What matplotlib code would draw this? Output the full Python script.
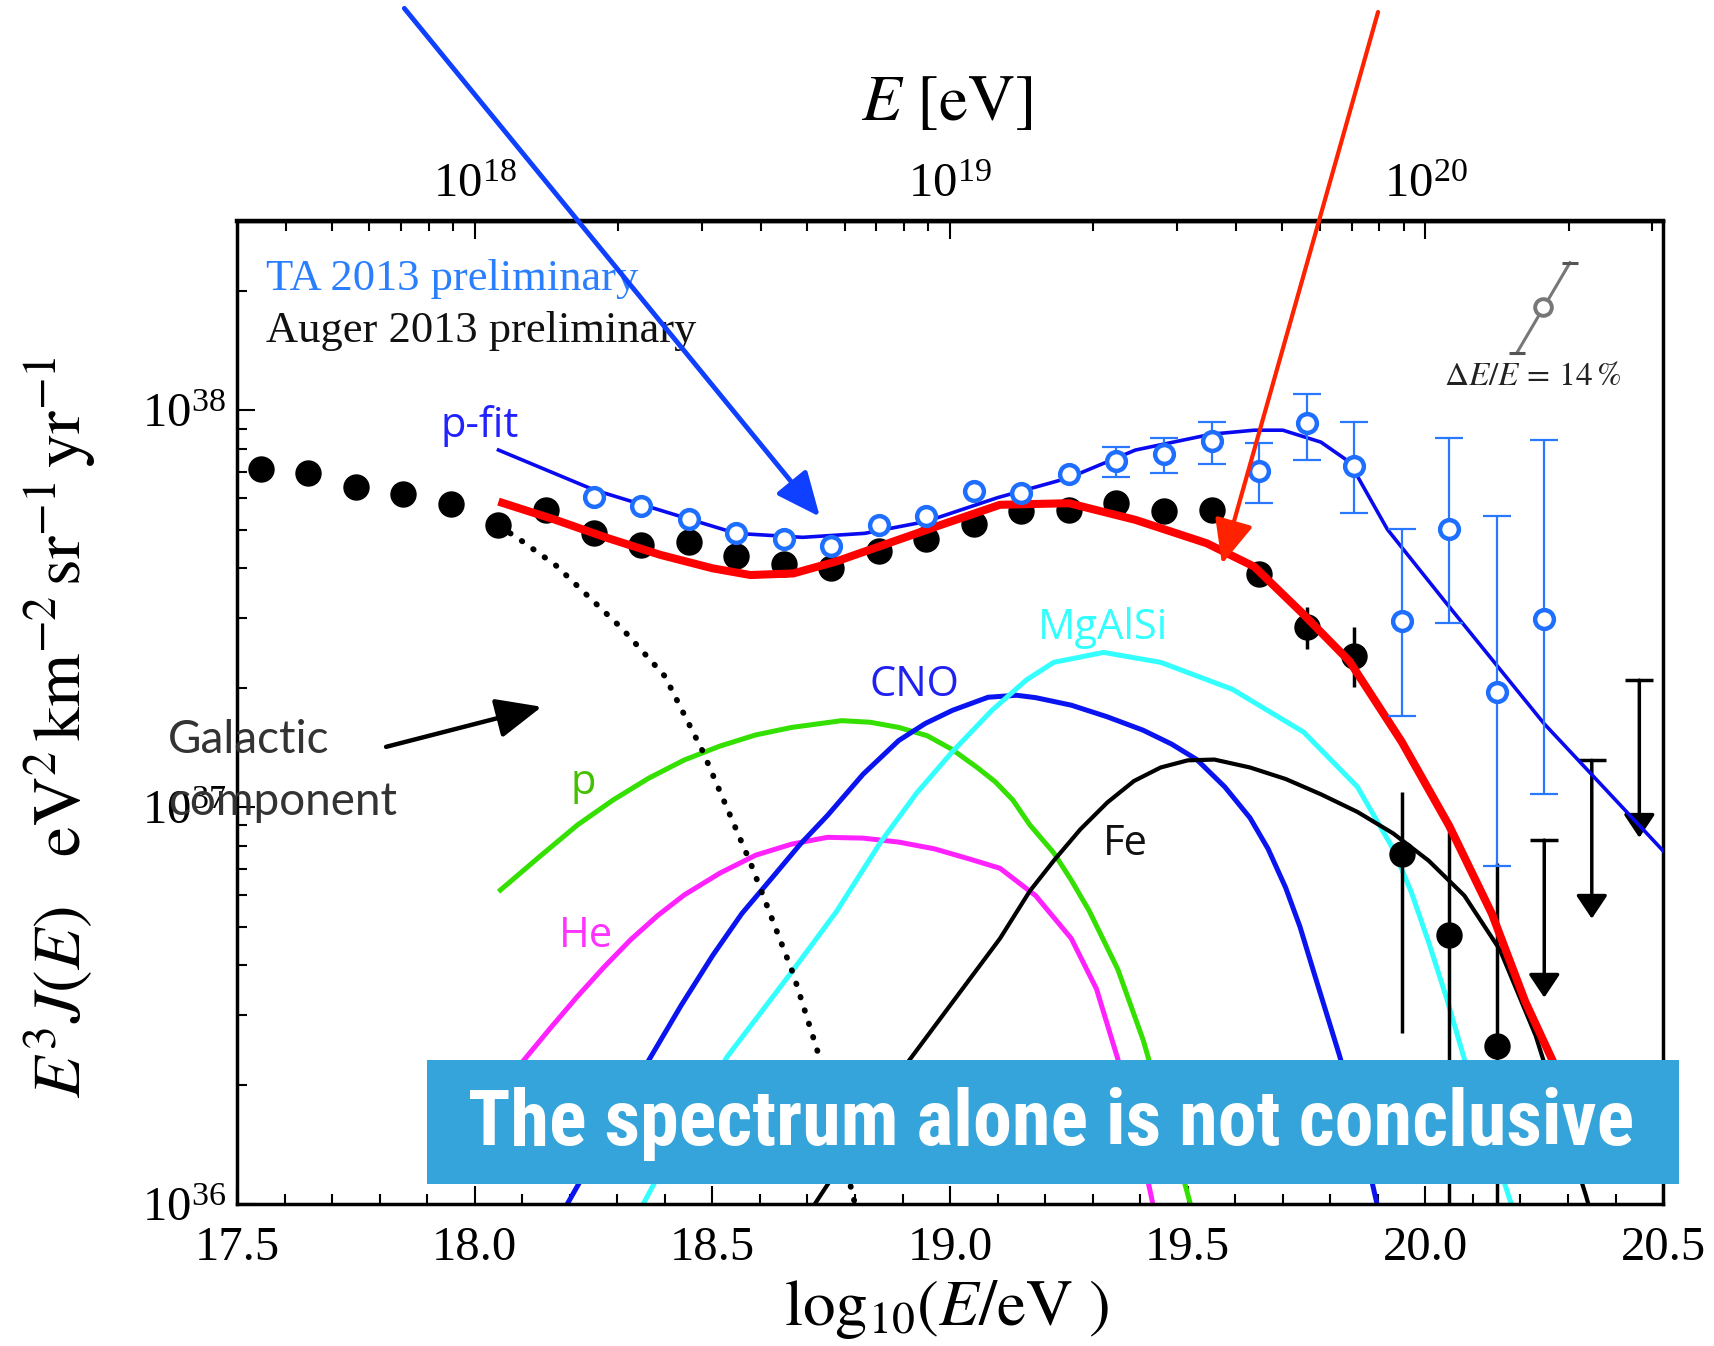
import numpy as np
import matplotlib
matplotlib.use('Agg')
import matplotlib.pyplot as plt
from matplotlib import font_manager
from matplotlib.patches import Rectangle
from matplotlib.ticker import MultipleLocator, FixedLocator, NullFormatter, FormatStrFormatter

plt.rcParams['font.family'] = 'serif'
plt.rcParams['font.serif'] = ['Liberation Serif', 'DejaVu Serif']
plt.rcParams['mathtext.fontset'] = 'stix'

# Auger 2013 (log10 of E^3 J in eV^2 km^-2 sr^-1 yr^-1)
auger_x = [17.55, 17.65, 17.75, 17.85, 17.95, 18.05, 18.15, 18.25, 18.35, 18.45,
           18.55, 18.65, 18.75, 18.85, 18.95, 19.05, 19.15, 19.25, 19.35, 19.45,
           19.55, 19.65, 19.75, 19.85, 19.95, 20.05, 20.15]
auger_log = [37.851, 37.843, 37.807, 37.788, 37.763, 37.711, 37.749, 37.691, 37.661, 37.669,
             37.634, 37.614, 37.603, 37.645, 37.675, 37.713, 37.747, 37.749, 37.766, 37.747,
             37.749, 37.587, 37.455, 37.380, 36.882, 36.678, 36.397]
auger_err_x = [19.75, 19.85, 19.95, 20.05, 20.15]
auger_err_hi = [37.504, 37.454, 37.039, 36.937, 36.860]
auger_err_lo = [37.399, 37.302, 36.430, 35.500, 35.500]
auger_ul_x = [20.25, 20.35, 20.45]
auger_ul_top = [36.917, 37.118, 37.320]
auger_ul_tip = [36.520, 36.719, 36.923]

# TA 2013
ta_x = [18.25, 18.35, 18.45, 18.55, 18.65, 18.75, 18.85, 18.95, 19.05, 19.15,
        19.25, 19.35, 19.45, 19.55, 19.65, 19.75, 19.85, 19.95, 20.05, 20.15, 20.25]
ta_log = [37.782, 37.760, 37.727, 37.691, 37.675, 37.658, 37.711, 37.733, 37.796, 37.791,
          37.840, 37.873, 37.890, 37.923, 37.846, 37.967, 37.860, 37.468, 37.702, 37.289, 37.474]
ta_err_hi = [37.907, 37.931, 37.970, 37.917, 38.041, 37.970, 37.700, 37.931, 37.733, 37.926]
ta_err_lo = [37.833, 37.843, 37.865, 37.766, 37.876, 37.741, 37.229, 37.463, 36.851, 37.033]

# model curves
total_x = [18.05, 18.17, 18.28, 18.39, 18.50, 18.58, 18.67, 18.76, 18.87, 18.98, 19.105,
           19.25, 19.39, 19.54, 19.64, 19.74, 19.84, 19.95, 20.05, 20.14, 20.21, 20.27, 20.32]
total_log = [37.770, 37.724, 37.678, 37.636, 37.602, 37.585, 37.589, 37.619, 37.665, 37.711,
             37.762, 37.766, 37.724, 37.665, 37.606, 37.490, 37.368, 37.165, 36.953, 36.731,
             36.510, 36.355, 36.140]

pfit_x = [18.05, 18.25, 18.44, 18.55, 18.69, 18.82, 18.95, 19.10, 19.25, 19.39, 19.55, 19.64,
          19.70, 19.78, 19.84, 19.92, 20.04, 20.25, 20.50]
pfit_log = [37.90, 37.80, 37.73, 37.69, 37.68, 37.69, 37.72, 37.78, 37.83, 37.90, 37.94, 37.95,
            37.95, 37.92, 37.87, 37.70, 37.52, 37.21, 36.89]

gal_x = [18.05, 18.10, 18.17, 18.24, 18.31, 18.40, 18.48, 18.58, 18.67, 18.72, 18.80]
gal_log = [37.71, 37.67, 37.61, 37.53, 37.45, 37.33, 37.14, 36.86, 36.58, 36.39, 36.00]

p_x = [18.054, 18.140, 18.216, 18.291, 18.366, 18.441, 18.516, 18.591, 18.667, 18.772, 18.832,
       18.892, 18.952, 19.005, 19.057, 19.095, 19.132, 19.168, 19.218, 19.255, 19.293, 19.353,
       19.406, 19.451, 19.496, 19.510]
p_log = [36.791, 36.879, 36.955, 37.018, 37.073, 37.119, 37.154, 37.182, 37.201, 37.218, 37.214,
         37.201, 37.180, 37.145, 37.100, 37.064, 37.018, 36.955, 36.885, 36.816, 36.738, 36.591,
         36.414, 36.228, 36.042, 35.980]

he_x = [18.050, 18.103, 18.159, 18.216, 18.272, 18.328, 18.385, 18.441, 18.516, 18.591, 18.667,
        18.742, 18.817, 18.892, 18.967, 19.042, 19.105, 19.180, 19.255, 19.308, 19.353, 19.391,
        19.421, 19.430]
he_log = [36.280, 36.362, 36.443, 36.523, 36.597, 36.666, 36.727, 36.779, 36.834, 36.879, 36.907,
          36.924, 36.922, 36.912, 36.895, 36.869, 36.846, 36.777, 36.669, 36.542, 36.365, 36.198,
          36.032, 35.980]

cno_x = [18.190, 18.366, 18.434, 18.501, 18.562, 18.629, 18.685, 18.742, 18.817, 18.892, 18.948,
         19.005, 19.080, 19.140, 19.180, 19.255, 19.330, 19.406, 19.466, 19.519, 19.578, 19.631,
         19.669, 19.706, 19.736, 19.766, 19.819, 19.857, 19.894, 19.900]
cno_log = [35.990, 36.362, 36.500, 36.627, 36.732, 36.827, 36.907, 36.979, 37.083, 37.168, 37.211,
           37.244, 37.277, 37.282, 37.276, 37.257, 37.228, 37.194, 37.159, 37.120, 37.051, 36.973,
           36.895, 36.797, 36.699, 36.581, 36.375, 36.218, 36.022, 35.990]

mg_x = [18.350, 18.442, 18.531, 18.667, 18.761, 18.854, 18.930, 19.005, 19.088, 19.161, 19.218,
        19.323, 19.443, 19.594, 19.744, 19.857, 19.932, 19.970, 20.007, 20.045, 20.082, 20.180,
        20.185]
mg_log = [35.990, 36.196, 36.371, 36.585, 36.737, 36.912, 37.036, 37.140, 37.244, 37.321, 37.365,
          37.390, 37.365, 37.297, 37.189, 37.051, 36.895, 36.787, 36.659, 36.517, 36.365, 36.002,
          35.990]

fe_x = [18.710, 18.914, 19.105, 19.168, 19.218, 19.274, 19.331, 19.387, 19.443, 19.500, 19.556,
        19.631, 19.706, 19.781, 19.857, 19.932, 20.007, 20.082, 20.157, 20.232, 20.338, 20.345]
fe_log = [35.990, 36.362, 36.669, 36.789, 36.865, 36.944, 37.012, 37.066, 37.100, 37.118, 37.120,
          37.100, 37.071, 37.032, 36.988, 36.934, 36.865, 36.777, 36.640, 36.424, 36.020, 35.990]

# energy-scale uncertainty marker
de_x = [20.192, 20.248, 20.304]
de_log = [38.144, 38.261, 38.372]

top_ticks = [18, 19, 20]
top_labels = [r'$\mathdefault{10^{18}}$', r'$\mathdefault{10^{19}}$', r'$\mathdefault{10^{20}}$']
banner_text = 'The spectrum alone is not conclusive'


def f(v):
    return 10 ** np.asarray(v, dtype=float)


fig = plt.figure(figsize=(17.14, 13.46), dpi=100)
ax = fig.add_axes([0.1383, 0.1055, 0.8320, 0.7303])
ax.set_yscale('log')
ax.set_xlim(17.5, 20.5)
ax.set_ylim(1e36, 3e38)

# composition components
ax.plot(p_x, f(p_log), color='#33e000', lw=3.6, zorder=2)
ax.plot(he_x, f(he_log), color='#ff22ff', lw=3.6, zorder=2)
ax.plot(cno_x, f(cno_log), color='#0a14f0', lw=3.6, zorder=2)
ax.plot(mg_x, f(mg_log), color='#33ffff', lw=3.6, zorder=2)
ax.plot(fe_x, f(fe_log), color='black', lw=3.0, zorder=2)
ax.plot(gal_x, f(gal_log), color='black', lw=4.2, ls=(0, (0.1, 2.3)),
        dash_capstyle='round', zorder=2)

# Auger points
ax.errorbar(auger_err_x, f(auger_log[-5:]),
            yerr=[f(auger_log[-5:]) - f(auger_err_lo), f(auger_err_hi) - f(auger_log[-5:])],
            fmt='none', ecolor='black', elinewidth=2.5, capsize=0, zorder=3)
ax.plot(auger_x, f(auger_log), 'o', color='black', ms=18, zorder=3)
for x, top, tip in zip(auger_ul_x, auger_ul_top, auger_ul_tip):
    ax.annotate('', xy=(x, f(tip)), xytext=(x, f(top)),
                arrowprops=dict(arrowstyle='-|>,head_length=0.6,head_width=0.4',
                                color='black', lw=2.5, shrinkA=0, shrinkB=0,
                                mutation_scale=24), zorder=3)
ax.plot(auger_ul_x, f(auger_ul_top), '_', color='black', ms=20, mew=2.5, zorder=3)

# total fit and p-fit
ax.plot(total_x, f(total_log), color='#ff0000', lw=5.8, solid_capstyle='butt',
        solid_joinstyle='round', zorder=4)
ax.plot(pfit_x, f(pfit_log), color='#0a0af0', lw=2.6, solid_joinstyle='round', zorder=4)

# TA points
ax.errorbar(ta_x[-10:], f(ta_log[-10:]),
            yerr=[f(ta_log[-10:]) - f(ta_err_lo), f(ta_err_hi) - f(ta_log[-10:])],
            fmt='none', ecolor='#2a78ff', elinewidth=1.6, capsize=10, capthick=1.6, zorder=5)
ax.plot(ta_x, f(ta_log), 'o', mfc='white', mec='#1e6eff', ms=13.5, mew=3.2, zorder=5)

# energy scale indicator
ax.plot(de_x[::2], f(de_log[::2]), color='#777777', lw=2.2, zorder=5)
ax.plot(de_x[::2], f(de_log[::2]), '_', color='#555555', ms=12, mew=2.2, zorder=5)
ax.plot(de_x[1], f(de_log[1]), 'o', mfc='white', mec='#777777', ms=12, mew=2.8, zorder=6)
ax.text(20.226, f(38.063), r'$\Delta E/E\,=\,14\,\%$', fontsize=24, color='#222222',
        ha='center', va='baseline')

# data set labels
ax.text(17.561, f(38.303), 'TA 2013 preliminary', color='#2a7fff', fontsize=32,
        va='baseline', ha='left')
ax.text(17.561, f(38.173), 'Auger 2013 preliminary', color='#111111', fontsize=32,
        va='baseline', ha='left')

# curve labels
sans = ['Open Sans', 'DejaVu Sans']
ax.text(18.010, f(37.933), 'p-fit', color='#2222ff', fontsize=30, family=sans,
        ha='center', va='baseline')
ax.text(18.924, f(37.281), 'CNO', color='#2020f0', fontsize=30, family=sans,
        ha='center', va='baseline')
ax.text(19.321, f(37.423), 'MgAlSi', color='#33ffff', fontsize=30, family=sans,
        ha='center', va='baseline')
ax.text(18.228, f(37.034), 'p', color='#44c000', fontsize=30, family=sans,
        ha='center', va='baseline')
ax.text(18.234, f(36.647), 'He', color='#ff33ff', fontsize=30, family=sans,
        ha='center', va='baseline')
ax.text(19.368, f(36.879), 'Fe', color='#111111', fontsize=30, family=sans,
        ha='center', va='baseline')

gal_font = ['Lato', 'DejaVu Sans']
ax.text(17.355, f(37.137), 'Galactic', color='#333333', fontsize=33, family=gal_font,
        ha='left', va='baseline', clip_on=False, zorder=7)
ax.text(17.355, f(36.980), 'component', color='#333333', fontsize=33, family=gal_font,
        ha='left', va='baseline', clip_on=False, zorder=7)
ax.annotate('', xy=(18.141, f(37.253)), xytext=(17.8135, f(37.152)),
            arrowprops=dict(arrowstyle='-|>,head_length=0.8,head_width=0.35', color='black',
                            lw=3.2, shrinkA=0, shrinkB=0, mutation_scale=35), zorder=7)

# pointer arrows from the top margin
ax.annotate('', xy=(18.726, f(37.732)), xytext=(0.2359, 0.9938), textcoords='figure fraction',
            arrowprops=dict(arrowstyle='-|>,head_length=0.9,head_width=0.4', color='#1040ff',
                            lw=3.5, shrinkA=0, shrinkB=0, mutation_scale=30, clip_on=False),
            annotation_clip=False, zorder=8)
ax.annotate('', xy=(19.572, f(37.613)), xytext=(0.804, 0.9911), textcoords='figure fraction',
            arrowprops=dict(arrowstyle='-|>,head_length=0.9,head_width=0.4', color='#ff2200',
                            lw=3.0, shrinkA=0, shrinkB=0, mutation_scale=30, clip_on=False),
            annotation_clip=False, zorder=8)

# axes styling
for s in ax.spines.values():
    s.set_linewidth(2.5)
ax.xaxis.set_major_locator(MultipleLocator(0.5))
ax.xaxis.set_minor_locator(MultipleLocator(0.1))
ax.xaxis.set_major_formatter(FormatStrFormatter('%.1f'))
ax.tick_params(which='both', direction='in', top=False, right=False, width=1.5)
ax.tick_params(which='major', length=13, labelsize=35)
ax.tick_params(which='minor', length=7)
ax.tick_params(axis='x', pad=16)
ax.tick_params(axis='y', pad=8)

sec = ax.secondary_xaxis('top')
sec.set_xticks(top_ticks)
sec.set_xticklabels(top_labels)
minor_top = [np.log10(k * 10.0 ** n) for n in (17, 18, 19, 20) for k in range(2, 10)]
minor_top = [m for m in minor_top if 17.5 < m < 20.5]
sec.xaxis.set_minor_locator(FixedLocator(minor_top))
sec.xaxis.set_minor_formatter(NullFormatter())
sec.tick_params(which='both', direction='in', width=1.5)
sec.tick_params(which='major', length=13, labelsize=35, pad=10)
sec.tick_params(which='minor', length=7)
sec.spines['top'].set_linewidth(3.2)

fig.text(0.5523, 0.9229, r'$E\ \left[\mathrm{eV}\right]$', fontsize=47, ha='center', va='center')
fig.text(0.5523, 0.0270, r'$\log_{10}\!\left(E/\mathrm{eV}\ \right)$', fontsize=47,
         ha='center', va='center')
fig.text(0.035, 0.4599,
         r'$E^3J(E)\quad \mathrm{eV}^2\,\mathrm{km}^{-2}\,\mathrm{sr}^{-1}\,\mathrm{yr}^{-1}$',
         fontsize=49, rotation=90, ha='center', va='center')

# banner with a condensed bold face, sized to fit the box
available = {fe.name for fe in font_manager.fontManager.ttflist}
banner_family = 'DejaVu Sans'
for cand in ['Roboto Condensed', 'Noto Sans Condensed', 'Liberation Sans Narrow',
             'Open Sans Condensed', 'DejaVu Sans Condensed']:
    if cand in available:
        banner_family = cand
        break

fig.add_artist(Rectangle((0.2494, 0.1205), 0.7302, 0.0918, transform=fig.transFigure,
                         facecolor='#34a4da', edgecolor='none', zorder=10))
banner = fig.text(0.6132, 0.1493, banner_text, color='white', fontsize=72, fontweight='bold',
                  fontstretch='condensed', family=banner_family,
                  ha='center', va='baseline', zorder=11)
fig.canvas.draw()
width_px = banner.get_window_extent().width
if width_px > 1165:
    banner.set_fontsize(72 * 1165 / width_px)

fig.savefig('out.png', dpi=100)
